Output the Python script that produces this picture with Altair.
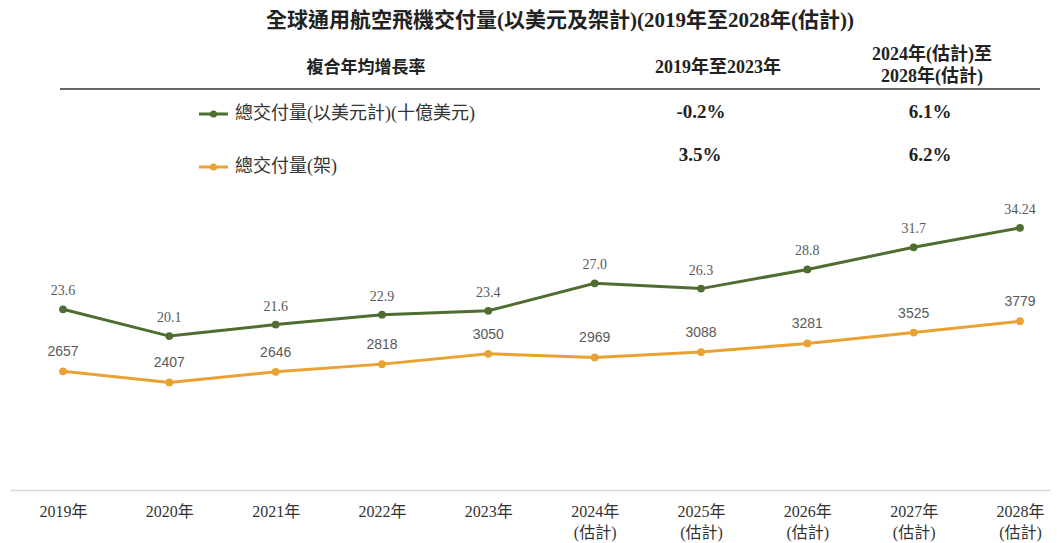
import altair as alt
import pandas as pd

# ---------------- data ----------------
years = ["2019年", "2020年", "2021年", "2022年", "2023年",
         "2024年(估計)", "2025年(估計)", "2026年(估計)", "2027年(估計)", "2028年(估計)"]
usd_bn = [23.6, 20.1, 21.6, 22.9, 23.4, 27.0, 26.3, 28.8, 31.7, 34.24]
usd_labels = ["23.6", "20.1", "21.6", "22.9", "23.4", "27.0", "26.3", "28.8", "31.7", "34.24"]
units = [2657, 2407, 2646, 2818, 3050, 2969, 3088, 3281, 3525, 3779]
series = ["總交付量(以美元計)(十億美元)", "總交付量(架)"]
cagr_19_23 = ["-0.2%", "3.5%"]
cagr_24_28 = ["6.1%", "6.2%"]
title_text = "全球通用航空飛機交付量(以美元及架計)(2019年至2028年(估計))"
header_cols = ["複合年均增長率", "2019年至2023年", "2024年(估計)至", "2028年(估計)"]

GREEN = "#4f6d31"
ORANGE = "#e9a233"
SERIF = "Liberation Serif, Noto Sans CJK TC"
SANS = "Liberation Sans, Noto Sans CJK TC"

df = pd.DataFrame({"idx": list(range(len(years))), "year": years,
                   "usd": usd_bn, "usd_lbl": usd_labels, "units": units})

year_arr = "[" + ",".join("'" + y + "'" for y in years) + "]"
xenc = alt.X("idx:Q", scale=alt.Scale(domain=[-0.4984, 9.282], nice=False, zero=False),
             axis=alt.Axis(title=None, values=list(range(len(years))), grid=False,
                           ticks=False, domainColor="#d9d9d9", domainWidth=1.5,
                           labelFont=SERIF, labelFontSize=16, labelColor="#333333",
                           labelPadding=13, labelLineHeight=21, labelBaseline="top",
                           labelFlush=False, labelOverlap=False,
                           labelExpr="split(replace(" + year_arr + "[datum.value], '(', '|('), '|')"))

yg = alt.Y("usd:Q", scale=alt.Scale(domain=[0, 35]), axis=None)
yo = alt.Y("units:Q", scale=alt.Scale(domain=[0, 6000]), axis=None)

base = alt.Chart(df)
g_line = base.mark_line(color=GREEN, strokeWidth=3).encode(x=xenc, y=yg)
g_pt = base.mark_circle(color=GREEN, size=60, opacity=1).encode(x=xenc, y=yg)
g_txt = base.mark_text(font=SERIF, fontSize=14, color="#595959", dy=-18).encode(
    x=xenc, y=yg, text="usd_lbl:N")
o_line = base.mark_line(color=ORANGE, strokeWidth=3).encode(x=xenc, y=yo)
o_pt = base.mark_circle(color=ORANGE, size=60, opacity=1).encode(x=xenc, y=yo)
o_txt = base.mark_text(font=SANS, fontSize=14, color="#595959", dy=-19).encode(
    x=xenc, y=yo, text="units:Q")

one = pd.DataFrame({"k": [0]})


def txt(s, x, y, size=15, bold=False, align="center", font=SERIF, color="#222222"):
    return alt.Chart(pd.DataFrame({"t": [s]})).mark_text(
        font=font, fontSize=size, fontWeight="bold" if bold else "normal",
        align=align, baseline="middle", color=color).encode(
        x=alt.value(x), y=alt.value(y), text="t:N")


layers = [
    g_line, o_line, g_pt, o_pt, g_txt, o_txt,
    txt(title_text, 550, -201, size=21, bold=True),
    txt(header_cols[0], 356, -154, size=17, bold=True),
    txt(header_cols[1], 708, -154, size=18, bold=True),
    txt(header_cols[2], 922, -167, size=18, bold=True),
    txt(header_cols[3], 922, -145, size=18, bold=True),
    alt.Chart(one).mark_rule(color="#333333", strokeWidth=1.5).encode(
        x=alt.value(50), x2=alt.value(1030), y=alt.value(-133)),
    # legend rows
    alt.Chart(one).mark_rule(color=GREEN, strokeWidth=3).encode(
        x=alt.value(189), x2=alt.value(218), y=alt.value(-108)),
    alt.Chart(one).mark_circle(color=GREEN, size=50, opacity=1).encode(
        x=alt.value(203.5), y=alt.value(-108)),
    txt(series[0], 225, -108, size=18, align="left", color="#333333"),
    alt.Chart(one).mark_rule(color=ORANGE, strokeWidth=3).encode(
        x=alt.value(189), x2=alt.value(218), y=alt.value(-55)),
    alt.Chart(one).mark_circle(color=ORANGE, size=50, opacity=1).encode(
        x=alt.value(203.5), y=alt.value(-55)),
    txt(series[1], 225, -55, size=18, align="left", color="#333333"),
    txt(cagr_19_23[0], 691, -110, size=19, bold=True),
    txt(cagr_24_28[0], 920, -110, size=19, bold=True),
    txt(cagr_19_23[1], 690, -67, size=19, bold=True),
    txt(cagr_24_28[1], 920, -67, size=19, bold=True),
]

chart = alt.layer(*layers).resolve_scale(y="independent").properties(
    width=1040, height=268,
    autosize=alt.AutoSizeParams(type="none"),
    padding={"left": 2, "top": 214, "right": 4, "bottom": 53},
    background="white",
).configure_view(stroke=None)

chart.save("out.html", embed_options={"renderer": "svg", "actions": False})
